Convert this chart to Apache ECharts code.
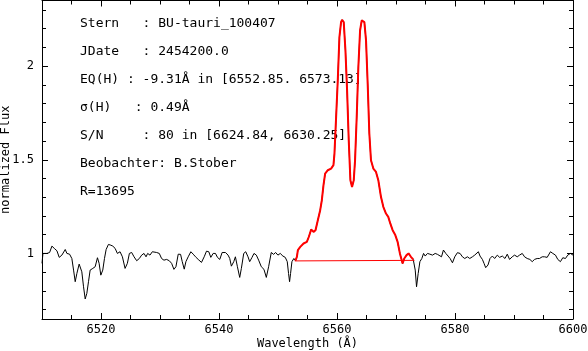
<!DOCTYPE html>
<html>
<head>
<meta charset="utf-8">
<script src="https://cdn.jsdelivr.net/npm/echarts@6/dist/echarts.min.js"></script>
<style>
  html, body { margin: 0; padding: 0; background: #fff; }
  #spectrumChart { width: 588px; height: 351px; }
</style>
</head>
<body>
<div id="spectrumChart"></div>
<script>
// spectrum left of the H-alpha window [wavelength, flux]
var specLeft = [
  [6510.0, 0.947], [6510.16, 1.000], [6510.84, 1.000], [6511.29, 1.005], [6511.68, 1.039],
  [6512.08, 1.027], [6512.53, 1.014], [6512.92, 0.979], [6513.37, 0.991], [6513.94, 1.021],
  [6514.22, 1.000], [6514.67, 0.996], [6515.06, 0.973], [6515.35, 0.911], [6515.63, 0.849],
  [6515.91, 0.893], [6516.30, 0.943], [6516.75, 0.902], [6517.04, 0.822], [6517.32, 0.757],
  [6517.60, 0.787], [6517.88, 0.849], [6518.16, 0.911], [6518.61, 0.920], [6519.01, 0.929],
  [6519.40, 0.977], [6519.68, 0.947], [6519.97, 0.884], [6520.30, 0.911], [6520.59, 0.973],
  [6520.87, 1.021], [6521.26, 1.048], [6521.66, 1.044], [6522.00, 1.039], [6522.39, 1.027],
  [6522.78, 1.000], [6523.23, 1.009], [6523.63, 0.982], [6524.08, 0.920], [6524.47, 0.947],
  [6524.81, 1.000], [6525.20, 1.005], [6525.60, 0.982], [6526.05, 0.961], [6526.50, 0.973],
  [6526.89, 0.991], [6527.29, 1.000], [6527.63, 0.982], [6527.91, 1.000], [6528.30, 0.991],
  [6528.70, 1.009], [6529.03, 1.014], [6529.43, 1.005], [6529.88, 1.000], [6530.27, 0.973],
  [6530.67, 0.964], [6531.12, 0.968], [6531.57, 0.961], [6531.97, 0.947], [6532.36, 0.915],
  [6532.70, 0.929], [6533.09, 0.996], [6533.49, 0.995], [6533.77, 0.956], [6534.11, 0.916],
  [6534.39, 0.956], [6534.78, 0.982], [6535.23, 1.009], [6535.63, 0.996], [6536.02, 0.982],
  [6536.47, 0.968], [6537.03, 0.952], [6537.49, 0.982], [6537.88, 1.012], [6538.27, 1.009],
  [6538.61, 0.979], [6539.01, 1.000], [6539.40, 1.000], [6539.74, 0.979], [6540.13, 0.968],
  [6540.53, 1.005], [6541.09, 1.005], [6541.54, 0.991], [6541.82, 0.973], [6542.10, 0.932],
  [6542.50, 0.956], [6542.78, 0.982], [6543.12, 0.929], [6543.51, 0.872], [6543.79, 0.920],
  [6544.19, 1.000], [6544.53, 1.009], [6544.92, 0.982], [6545.20, 0.956], [6545.60, 0.979],
  [6545.93, 1.000], [6546.33, 0.991], [6546.72, 0.964], [6547.17, 0.929], [6547.62, 0.915],
  [6548.02, 0.872], [6548.41, 0.929], [6548.86, 1.005], [6549.26, 0.995], [6549.60, 1.005],
  [6549.99, 0.991], [6550.38, 1.000], [6550.83, 0.986], [6551.23, 0.979], [6551.57, 0.956],
  [6551.79, 0.893], [6551.96, 0.849], [6552.13, 0.893], [6552.36, 0.956], [6552.69, 0.973]
]

// emission window (drawn red on top)
var specLine = [
  [6552.95, 0.962], [6553.20, 0.982], [6553.37, 1.018], [6553.77, 1.035], [6554.33, 1.053],
  [6554.89, 1.062], [6555.23, 1.089], [6555.62, 1.128], [6556.02, 1.115], [6556.36, 1.124],
  [6556.75, 1.177], [6557.15, 1.231], [6557.43, 1.284], [6557.71, 1.364], [6557.99, 1.426],
  [6558.44, 1.444], [6559.00, 1.453], [6559.40, 1.471], [6559.57, 1.533], [6559.85, 1.728],
  [6560.13, 1.924], [6560.41, 2.155], [6560.69, 2.235], [6560.86, 2.247], [6561.14, 2.235],
  [6561.43, 2.084], [6561.71, 1.871], [6561.99, 1.604], [6562.27, 1.391], [6562.55, 1.355],
  [6562.84, 1.391], [6563.06, 1.497], [6563.34, 1.728], [6563.62, 1.995], [6563.91, 2.190],
  [6564.19, 2.244], [6564.64, 2.235], [6564.92, 2.137], [6565.20, 1.906], [6565.48, 1.640],
  [6565.76, 1.497], [6566.16, 1.453], [6566.61, 1.435], [6567.00, 1.391], [6567.45, 1.302],
  [6567.85, 1.249], [6568.30, 1.213], [6568.69, 1.195], [6569.03, 1.160], [6569.43, 1.124],
  [6569.88, 1.098], [6570.27, 1.062], [6570.66, 1.000], [6571.12, 0.946], [6571.40, 0.973],
  [6571.79, 0.991], [6572.13, 1.000], [6572.52, 0.982], [6572.92, 0.968]
]

// spectrum right of the window
var specRight = [
  [6573.09, 0.968], [6573.26, 0.911], [6573.48, 0.822], [6573.76, 0.893], [6574.05, 0.956],
  [6574.38, 0.973], [6574.67, 1.000], [6574.95, 0.986], [6575.34, 1.000], [6575.74, 0.996],
  [6576.19, 0.991], [6576.64, 1.000], [6577.03, 0.995], [6577.31, 1.004], [6577.71, 0.982],
  [6578.04, 1.018], [6578.44, 1.000], [6578.83, 0.986], [6579.17, 0.973], [6579.57, 0.950],
  [6579.96, 0.982], [6580.41, 1.004], [6580.86, 1.000], [6581.26, 0.982], [6581.65, 0.973],
  [6582.10, 0.982], [6582.50, 0.973], [6582.95, 0.982], [6583.34, 0.991], [6583.62, 1.000],
  [6583.96, 1.009], [6584.24, 0.986], [6584.64, 0.968], [6584.92, 0.947], [6585.20, 0.924],
  [6585.59, 0.938], [6585.93, 0.973], [6586.33, 0.986], [6586.72, 0.973], [6587.17, 0.991],
  [6587.56, 0.979], [6588.02, 0.986], [6588.47, 0.973], [6588.86, 0.996], [6589.25, 0.968],
  [6589.70, 0.982], [6590.10, 0.991], [6590.55, 0.982], [6590.94, 0.991], [6591.40, 1.000],
  [6591.79, 0.982], [6592.24, 0.973], [6592.69, 0.968], [6593.09, 0.956], [6593.48, 0.968],
  [6593.93, 0.973], [6594.32, 0.973], [6594.78, 0.982], [6595.17, 0.982], [6595.62, 0.979],
  [6596.18, 1.009], [6596.58, 1.000], [6597.03, 0.991], [6597.42, 0.968], [6597.87, 0.956],
  [6598.27, 0.977], [6598.72, 0.973], [6599.11, 0.991], [6599.56, 1.000], [6600.0, 0.991]
]

// continuum under the line, EQ integration window
var baseline = [[6552.85, 0.960], [6573.13, 0.963]]

var xMajorTicks = [6520, 6540, 6560, 6580, 6600]
var xMinorTicks = [6515, 6525, 6530, 6535, 6545, 6550, 6555, 6565, 6570, 6575, 6585, 6590, 6595]
var yMajorTicks = [1, 1.5, 2]
var yMinorTicks = [0.7, 0.8, 0.9, 1.1, 1.2, 1.3, 1.4, 1.6, 1.7, 1.8, 1.9, 2.1, 2.2, 2.3]

var infoLines = [
  'Stern   : BU-tauri_100407',
  'JDate   : 2454200.0',
  'EQ(H) : -9.31Å in [6552.85. 6573.13]',
  'σ(H)   : 0.49Å',
  'S/N     : 80 in [6624.84, 6630.25]',
  'Beobachter: B.Stober',
  'R=13695'
]

var FONT = '"DejaVu Sans Mono", "Liberation Mono", monospace'

var myChart = echarts.init(document.getElementById('spectrumChart'))

function tickAxis (pos, values, len, withLine, withLabel, range) {
  return {
    type: 'value',
    position: pos,
    min: range[0],
    max: range[1],
    axisLine: { show: withLine, onZero: false, lineStyle: { color: '#000', width: 1 } },
    axisTick: { show: true, inside: true, length: len, customValues: values, lineStyle: { color: '#000' } },
    axisLabel: withLabel ? {
      show: true,
      customValues: values,
      color: '#000',
      fontFamily: FONT,
      fontSize: 12,
      formatter: function (v) { return String(v) }
    } : { show: false },
    splitLine: { show: false }
  }
}

var xr = [6510, 6600]
var yr = [0.65, 2.35]

var xBottom = tickAxis('bottom', xMajorTicks, 6, true, true, xr)
xBottom.axisLabel.margin = 5
xBottom.name = 'Wavelength (Å)'
xBottom.nameLocation = 'middle'
xBottom.nameGap = 19
xBottom.nameMoveOverlap = false
xBottom.nameTextStyle = { color: '#000', fontFamily: FONT, fontSize: 12 }

var yLeft = tickAxis('left', yMajorTicks, 6, true, true, yr)
yLeft.axisLabel.margin = 8
yLeft.name = 'normalized Flux'
yLeft.nameLocation = 'middle'
yLeft.nameGap = 30
yLeft.nameMoveOverlap = false
yLeft.nameTextStyle = { color: '#000', fontFamily: FONT, fontSize: 12 }

var option = {
  animation: false,
  backgroundColor: '#fff',
  grid: { left: 42, right: 15, top: 0.5, bottom: 32, containLabel: false, outerBoundsMode: 'none' },
  xAxis: [
    xBottom,
    tickAxis('bottom', xMinorTicks, 4, false, false, xr),
    tickAxis('top', xMajorTicks, 6, true, false, xr),
    tickAxis('top', xMinorTicks, 4, false, false, xr)
  ],
  yAxis: [
    yLeft,
    tickAxis('left', yMinorTicks, 4, false, false, yr),
    tickAxis('right', yMajorTicks, 6, true, false, yr),
    tickAxis('right', yMinorTicks, 4, false, false, yr)
  ],
  graphic: infoLines.map(function (t, i) {
    return {
      type: 'text',
      x: 80,
      y: 24 + i * 27.9,
      style: { text: t, fill: '#000', font: '13px ' + FONT, verticalAlign: 'middle' }
    }
  }),
  series: [
    {
      type: 'line',
      data: specLeft.concat(specLine, specRight),
      showSymbol: false,
      lineStyle: { color: '#000', width: 1 },
      z: 2
    },
    {
      type: 'line',
      data: specLine,
      showSymbol: false,
      lineStyle: { color: '#ff0000', width: 2 },
      z: 3
    },
    {
      type: 'line',
      data: baseline,
      showSymbol: false,
      lineStyle: { color: '#ff0000', width: 1 },
      z: 3
    }
  ]
}
myChart.setOption(option)
</script>
</body>
</html>
